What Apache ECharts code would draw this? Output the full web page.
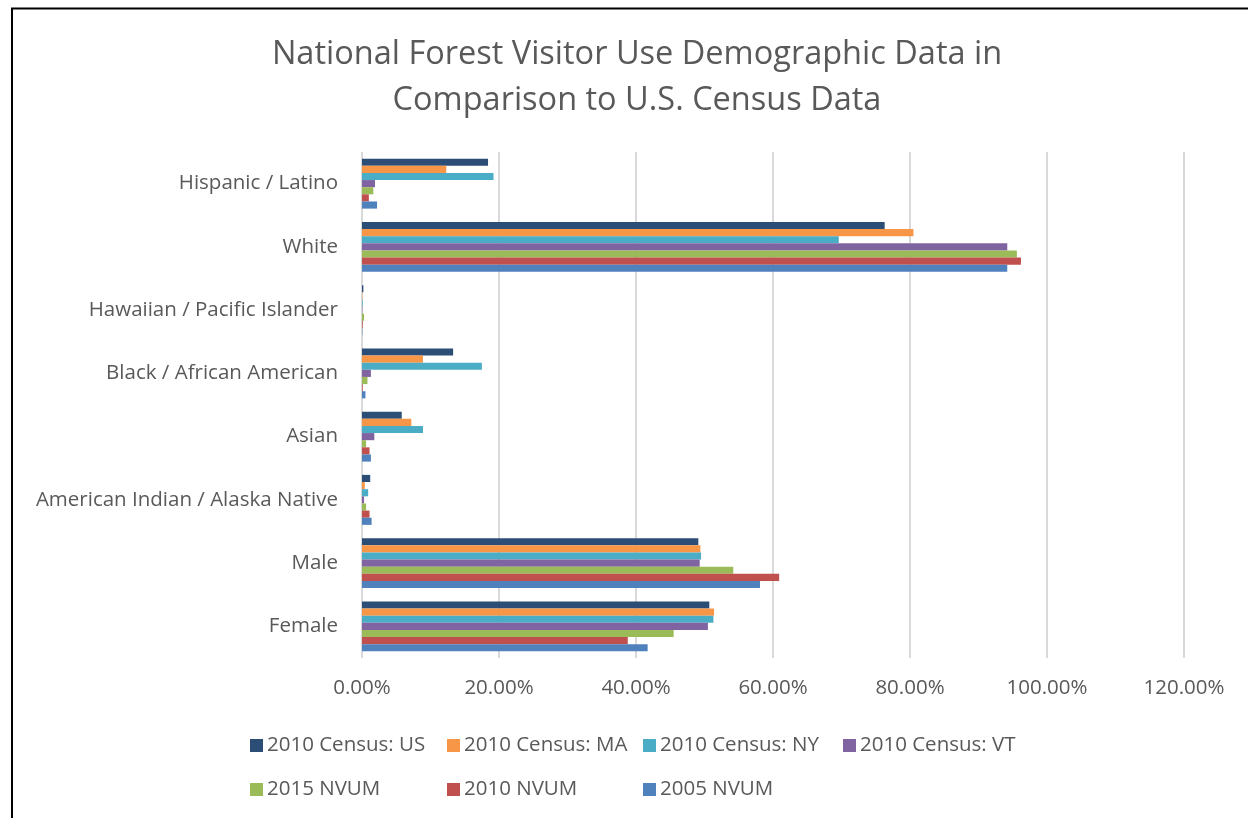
<!DOCTYPE html>
<html>
<head>
<meta charset="utf-8">
<script src="https://cdn.jsdelivr.net/npm/echarts@6/dist/echarts.min.js"></script>
<style>
  html, body { margin: 0; padding: 0; background: #fff; }
  #chart { width: 1248px; height: 818px; }
</style>
</head>
<body>
<div id="chart"></div>
<script>
// Categories, listed bottom to top along the y axis
const categories = [
  'Female', 'Male', 'American Indian / Alaska Native', 'Asian',
  'Black / African American', 'Hawaiian / Pacific Islander', 'White', 'Hispanic / Latino'
];

// Share of population / visitors (percent), same order as categories
const census2010US = [50.7, 49.1, 1.2, 5.8, 13.3, 0.2, 76.3, 18.4];
const census2010MA = [51.4, 49.4, 0.4, 7.2, 8.9, 0.05, 80.5, 12.3];
const census2010NY = [51.3, 49.5, 0.9, 8.9, 17.5, 0.1, 69.6, 19.2];
const census2010VT = [50.5, 49.3, 0.3, 1.8, 1.3, 0.05, 94.2, 1.9];
const nvum2015     = [45.5, 54.2, 0.6, 0.6, 0.8, 0.3, 95.6, 1.65];
const nvum2010     = [38.8, 60.9, 1.1, 1.1, 0.1, 0.1, 96.2, 1.0];
const nvum2005     = [41.7, 58.1, 1.4, 1.3, 0.5, 0.05, 94.2, 2.2];

const xTicks = [0, 20, 40, 60, 80, 100, 120];

const seriesDefs = [
  { name: '2010 Census: US', data: census2010US, color: '#2C4D75' },
  { name: '2010 Census: MA', data: census2010MA, color: '#F79646' },
  { name: '2010 Census: NY', data: census2010NY, color: '#4BACC6' },
  { name: '2010 Census: VT', data: census2010VT, color: '#8064A2' },
  { name: '2015 NVUM',       data: nvum2015,     color: '#9BBB59' },
  { name: '2010 NVUM',       data: nvum2010,     color: '#C0504D' },
  { name: '2005 NVUM',       data: nvum2005,     color: '#4F81BD' }
];

const FONT = '"Open Sans", "Noto Sans", sans-serif';
const TEXT = '#595959';

// Legend laid out as a 4-column table, one legend block per entry
const legendSlots = [
  [250, 735], [447, 735], [643, 735], [843, 735],
  [250, 779], [447, 779], [643, 779]
];
const legends = seriesDefs.map((s, i) => ({
  data: [s.name],
  left: legendSlots[i][0],
  top: legendSlots[i][1],
  padding: 0,
  icon: 'rect',
  itemWidth: 13,
  itemHeight: 13,
  itemGap: 0,
  selectedMode: false,
  textStyle: { fontFamily: FONT, fontSize: 20.5, color: TEXT, padding: [0, 0, 0, -1] }
}));

const chart = echarts.init(document.getElementById('chart'), null, { renderer: 'canvas' });
chart.setOption({
  backgroundColor: '#fff',
  animation: false,
  title: {
    text: 'National Forest Visitor Use Demographic Data in\nComparison to U.S. Census Data',
    left: 632,
    textAlign: 'center',
    top: 27,
    textStyle: { fontFamily: FONT, fontSize: 32.5, fontWeight: 'normal', color: TEXT, lineHeight: 46 }
  },
  legend: legends,
  graphic: [
    { type: 'line', shape: { x1: 11, y1: 8.5, x2: 1248, y2: 8.5 }, style: { stroke: '#000', lineWidth: 2 } },
    { type: 'line', shape: { x1: 12, y1: 8, x2: 12, y2: 818 }, style: { stroke: '#000', lineWidth: 2 } }
  ],
  grid: { left: 362, right: 64, top: 152, bottom: 160, containLabel: false },
  xAxis: {
    type: 'value',
    min: xTicks[0],
    max: xTicks[xTicks.length - 1],
    interval: 20,
    axisLine: { show: false },
    axisTick: { show: false },
    splitLine: { show: true, lineStyle: { color: '#D9D9D9', width: 2 } },
    axisLabel: {
      fontFamily: FONT, fontSize: 20.5, color: TEXT, margin: 20,
      formatter: v => v.toFixed(2) + '%'
    }
  },
  yAxis: {
    type: 'category',
    data: categories,
    axisLine: { show: false },
    axisTick: { show: false },
    axisLabel: { fontFamily: FONT, fontSize: 20.5, color: TEXT, margin: 24, padding: [3, 0, 0, 0] }
  },
  // First series sits at the top of each category band
  series: seriesDefs.map(s => ({
    name: s.name,
    type: 'bar',
    data: s.data,
    barGap: '0%',
    barCategoryGap: '21%',
    itemStyle: { color: s.color }
  }))
});
</script>
</body>
</html>
